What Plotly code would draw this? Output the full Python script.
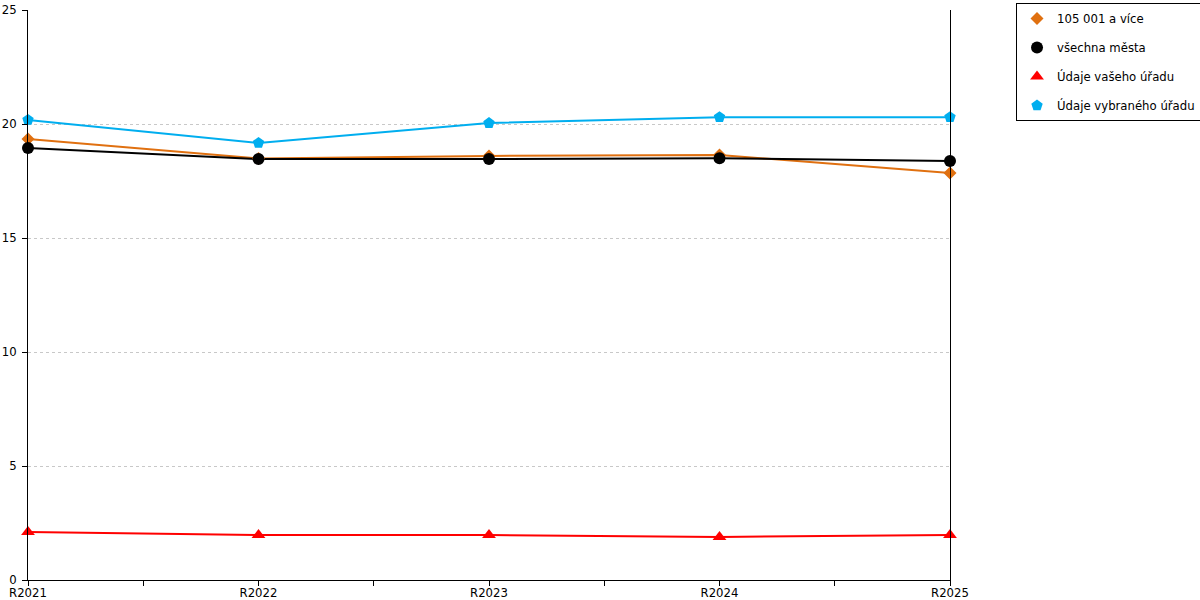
import plotly.graph_objects as go

# data
years = ["R2021", "R2022", "R2023", "R2024", "R2025"]
mesta_105 = [19.34, 18.49, 18.6, 18.64, 17.85]
vsechna_mesta = [18.95, 18.46, 18.46, 18.5, 18.38]
vas_urad = [2.1, 1.97, 1.97, 1.89, 1.97]
vybrany_urad = [20.18, 19.17, 20.04, 20.3, 20.3]

names = ["105 001 a více", "všechna města", "Údaje vašeho úřadu", "Údaje vybraného úřadu"]
series = [mesta_105, vsechna_mesta, vas_urad, vybrany_urad]
colors = ["#e07010", "#000000", "#ff0000", "#00aeef"]
symbols = ["diamond", "circle", "triangle-up", "pentagon"]
sizes = [10, 12, 12, 12]

xpos = list(range(len(years)))

fig = go.Figure()
# lines first (no legend), then markers on top (legend shows marker only)
for i in range(len(names)):
    fig.add_trace(go.Scatter(
        x=xpos, y=series[i], mode="lines", showlegend=False,
        line=dict(color=colors[i], width=2), hoverinfo="skip",
    ))
for i in range(len(names)):
    fig.add_trace(go.Scatter(
        x=xpos, y=series[i], name=names[i], mode="markers",
        marker=dict(symbol=symbols[i], size=sizes[i], color=colors[i]),
        legendgroup=str(i), cliponaxis=False,
    ))

# ticks every half category, labels only on categories
tickvals = []
ticktext = []
for i, y in enumerate(years):
    tickvals.append(i)
    ticktext.append(y)
    if i < len(years) - 1:
        tickvals.append(i + 0.5)
        ticktext.append("")

fig.update_layout(
    width=1200, height=600,
    plot_bgcolor="white", paper_bgcolor="white",
    font=dict(family="DejaVu Sans", size=11.7, color="#000000"),
    margin=dict(l=28, r=250, t=10, b=20, autoexpand=False),
    showlegend=True,
    legend=dict(
        x=1.0716, y=1.0123, xanchor="left", yanchor="top",
        bordercolor="#000000", borderwidth=1,
        traceorder="grouped", tracegroupgap=10,
    ),
    xaxis=dict(
        range=[0, len(years) - 1], tickmode="array",
        tickvals=tickvals, ticktext=ticktext,
        showgrid=False, zeroline=False, automargin=False,
        showline=True, linecolor="#000000", linewidth=1,
        ticks="outside", ticklen=5, tickcolor="#000000",
        ticklabelstandoff=-3,
    ),
    yaxis=dict(
        range=[0, 25], dtick=5, automargin=False,
        showgrid=True, gridcolor="#c8c8c8", griddash="dot",
        zeroline=False,
        showline=True, mirror=True, linecolor="#000000", linewidth=1,
        ticks="outside", ticklen=5, tickcolor="#000000",
        ticklabelstandoff=3,
    ),
)

# drop the default page margin so the figure fills the window exactly
fig.write_html("out.html", config={"displayModeBar": False},
               post_script="document.body.style.margin = '0';")
